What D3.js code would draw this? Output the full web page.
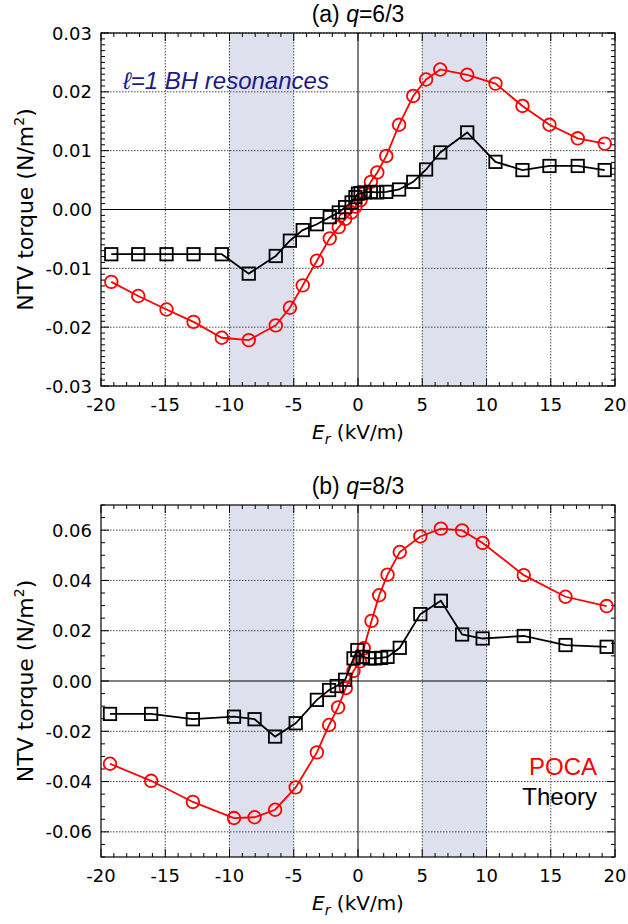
<!DOCTYPE html>
<html>
<head>
<meta charset="utf-8">
<script src="https://cdnjs.cloudflare.com/ajax/libs/d3/7.8.5/d3.min.js"></script>
<style>
body { margin: 0; background: #fff; }
svg { display: block; }
</style>
</head>
<body>
<svg id="canvas" width="628" height="924"></svg>
<script>

// x axis (shared)
var xTicks = [-20, -15, -10, -5, 0, 5, 10, 15, 20];
var bands = [[-10, -5], [5, 10]];

// panel (a) q=6/3
var aTicks = [-0.03, -0.02, -0.01, 0, 0.01, 0.02, 0.03];
var aTheoryEr = [-19.2, -17.1, -14.9, -12.8, -10.6, -8.5, -6.4, -5.3, -4.3, -3.2, -2.2, -1.5, -1.0, -0.5, -0.2, 0.0, 0.2, 0.5, 1.0, 1.5, 2.2, 3.2, 4.3, 5.3, 6.4, 8.5, 10.7, 12.8, 14.9, 17.1, 19.2];
var aTheory = [-0.0076, -0.0076, -0.0076, -0.0076, -0.0076, -0.0109, -0.0079, -0.0053, -0.0035, -0.0025, -0.0013, -0.0005, 0.0004, 0.0012, 0.0021, 0.0027, 0.0028, 0.0029, 0.0030, 0.0029, 0.0030, 0.0034, 0.0047, 0.0068, 0.0097, 0.0131, 0.0081, 0.0067, 0.0074, 0.0074, 0.0067];
var aPocaEr = [-19.2, -17.1, -14.9, -12.8, -10.6, -8.5, -6.4, -5.3, -4.3, -3.2, -2.2, -1.5, -1.0, -0.5, -0.2, 0.2, 0.5, 1.0, 1.5, 2.2, 3.2, 4.3, 5.3, 6.4, 8.5, 10.7, 12.8, 14.9, 17.1, 19.2];
var aPoca = [-0.0123, -0.0147, -0.0170, -0.0191, -0.0218, -0.0222, -0.0197, -0.0167, -0.0129, -0.0087, -0.0049, -0.0030, -0.0016, -0.0005, 0.0005, 0.0016, 0.0028, 0.0047, 0.0063, 0.0091, 0.0144, 0.0193, 0.0221, 0.0238, 0.0229, 0.0214, 0.0176, 0.0144, 0.0121, 0.0112];

// panel (b) q=8/3
var bTicks = [-0.06, -0.04, -0.02, 0, 0.02, 0.04, 0.06];
var bTheoryEr = [-19.3, -16.1, -12.85, -9.65, -8.05, -6.45, -4.85, -3.2, -2.25, -1.65, -1.0, -0.35, -0.05, 0.35, 0.9, 1.35, 1.8, 2.3, 3.25, 4.85, 6.45, 8.1, 9.7, 12.9, 16.15, 19.35];
var bTheory = [-0.0131, -0.0131, -0.0152, -0.0142, -0.0152, -0.0221, -0.0168, -0.0075, -0.0036, -0.0020, 0.0005, 0.0090, 0.0123, 0.0096, 0.0090, 0.0090, 0.0092, 0.0096, 0.0132, 0.0266, 0.0319, 0.0185, 0.0169, 0.0179, 0.0143, 0.0136];
var bPocaEr = [-19.3, -16.1, -12.85, -9.65, -8.05, -6.45, -4.85, -3.2, -2.25, -1.55, -0.95, -0.35, 0.15, 0.45, 1.05, 1.65, 2.3, 3.25, 4.85, 6.45, 8.1, 9.7, 12.9, 16.15, 19.35];
var bPoca = [-0.0329, -0.0397, -0.0481, -0.0545, -0.0542, -0.0512, -0.0423, -0.0284, -0.0175, -0.0105, -0.0028, 0.0040, 0.0078, 0.0130, 0.0239, 0.0341, 0.0423, 0.0513, 0.0575, 0.0606, 0.0599, 0.0549, 0.0421, 0.0335, 0.0298];

var svg = d3.select('#canvas');
var X0 = 101, X1 = 615;
var tickFont = 'DejaVu Sans, sans-serif';
var textFont = 'Liberation Sans, Arial, sans-serif';

function panel(cfg) {
  var x = d3.scaleLinear().domain([-20, 20]).range([X0, X1]);
  var y = d3.scaleLinear().domain(cfg.domain).range([cfg.bottom, cfg.top]);
  var g = svg.append('g');

  // resonance bands
  g.selectAll('.band').data(bands).enter().append('rect')
    .attr('x', function(d) { return x(d[0]); })
    .attr('y', cfg.top)
    .attr('width', function(d) { return x(d[1]) - x(d[0]); })
    .attr('height', cfg.bottom - cfg.top)
    .style('fill', '#dfe0ee');

  // dotted grid
  g.selectAll('.gx').data(xTicks.filter(function(d) { return d !== 0 && Math.abs(d) !== 20; })).enter().append('line')
    .attr('x1', x).attr('x2', x).attr('y1', cfg.top).attr('y2', cfg.bottom)
    .style('stroke', '#444').style('stroke-width', 1).style('stroke-dasharray', '1.5,1.5');
  g.selectAll('.gy').data(cfg.ticks.filter(function(d) { return d !== 0; })).enter().append('line')
    .attr('y1', y).attr('y2', y).attr('x1', X0).attr('x2', X1)
    .style('stroke', '#444').style('stroke-width', 1).style('stroke-dasharray', '1.5,1.5');

  // zero lines
  g.append('line').attr('x1', x(0)).attr('x2', x(0)).attr('y1', cfg.top).attr('y2', cfg.bottom)
    .style('stroke', '#000').style('stroke-width', 1);
  g.append('line').attr('x1', X0).attr('x2', X1).attr('y1', y(0)).attr('y2', y(0))
    .style('stroke', '#000').style('stroke-width', 1);

  // inward ticks, all four sides
  var xMinor = d3.range(-20, 20.001, 1);
  var yMinor = d3.range(cfg.domain[0], cfg.domain[1] + cfg.minor / 2, cfg.minor);
  xMinor.forEach(function(v) {
    var len = (Math.round(v) % 5 === 0) ? 8 : 4;
    g.append('line').attr('x1', x(v)).attr('x2', x(v)).attr('y1', cfg.bottom).attr('y2', cfg.bottom - len).style('stroke', '#000');
    g.append('line').attr('x1', x(v)).attr('x2', x(v)).attr('y1', cfg.top).attr('y2', cfg.top + len).style('stroke', '#000');
  });
  yMinor.forEach(function(v) {
    var major = cfg.ticks.some(function(t) { return Math.abs(t - v) < cfg.minor / 10; });
    var len = major ? 8 : 4;
    g.append('line').attr('y1', y(v)).attr('y2', y(v)).attr('x1', X0).attr('x2', X0 + len).style('stroke', '#000');
    g.append('line').attr('y1', y(v)).attr('y2', y(v)).attr('x1', X1).attr('x2', X1 - len).style('stroke', '#000');
  });

  // frame
  g.append('rect').attr('x', X0).attr('y', cfg.top).attr('width', X1 - X0).attr('height', cfg.bottom - cfg.top)
    .style('fill', 'none').style('stroke', '#000').style('stroke-width', 1.2);

  // tick labels
  g.selectAll('.xl').data(xTicks).enter().append('text')
    .attr('x', x).attr('y', cfg.bottom + 25)
    .attr('text-anchor', 'middle')
    .style('font-family', tickFont).style('font-size', '18px')
    .text(function(d) { return String(d); });
  g.selectAll('.yl').data(cfg.ticks).enter().append('text')
    .attr('x', X0 - 9).attr('y', function(d) { return y(d) + 6.5; })
    .attr('text-anchor', 'end')
    .style('font-family', tickFont).style('font-size', '18px')
    .text(function(d) { return d.toFixed(2); });

  // axis titles
  var xt = g.append('text').attr('x', x(0)).attr('y', cfg.bottom + 53).attr('text-anchor', 'middle')
    .style('font-family', tickFont).style('font-size', '20px');
  xt.append('tspan').style('font-style', 'italic').text('E');
  xt.append('tspan').style('font-style', 'italic').style('font-size', '14px').attr('dy', 5).text('r');
  xt.append('tspan').attr('dy', -5).text(' (kV/m)');

  var yt = g.append('text')
    .attr('transform', 'translate(33,' + ((cfg.top + cfg.bottom) / 2) + ') rotate(-90)')
    .attr('text-anchor', 'middle')
    .style('font-family', tickFont).style('font-size', '22px');
  yt.append('tspan').text('NTV torque (N/m');
  yt.append('tspan').style('font-size', '14px').attr('dy', -9).text('2');
  yt.append('tspan').attr('dy', 9).text(')');

  // panel title
  var tt = g.append('text').attr('x', x(0)).attr('y', cfg.top - 11).attr('text-anchor', 'middle')
    .style('font-family', textFont).style('font-size', '23px');
  tt.append('tspan').text(cfg.label + ' ');
  tt.append('tspan').style('font-style', 'italic').text('q');
  tt.append('tspan').text(cfg.q);

  // series
  var line = d3.line().x(function(d) { return x(d[0]); }).y(function(d) { return y(d[1]); });
  var theory = d3.zip(cfg.thEr, cfg.th);
  var poca = d3.zip(cfg.pEr, cfg.p);

  g.append('path').datum(poca).attr('d', line)
    .style('fill', 'none').style('stroke', '#ff0000').style('stroke-width', 1.8);
  g.selectAll('.pc').data(poca).enter().append('circle')
    .attr('cx', function(d) { return x(d[0]); }).attr('cy', function(d) { return y(d[1]); })
    .attr('r', 6.3)
    .style('fill', 'none').style('stroke', '#ff0000').style('stroke-width', 1.8);

  g.append('path').datum(theory).attr('d', line)
    .style('fill', 'none').style('stroke', '#000').style('stroke-width', 1.8);
  g.selectAll('.ts').data(theory).enter().append('rect')
    .attr('x', function(d) { return x(d[0]) - 6.2; }).attr('y', function(d) { return y(d[1]) - 6.2; })
    .attr('width', 12.4).attr('height', 12.4)
    .style('fill', 'none').style('stroke', '#000').style('stroke-width', 1.8);

  return { x: x, y: y, g: g };
}

var pa = panel({ top: 33, bottom: 386, domain: [-0.03, 0.03], ticks: aTicks, minor: 0.001,
  label: '(a)', q: '=6/3', thEr: aTheoryEr, th: aTheory, pEr: aPocaEr, p: aPoca });

var pb = panel({ top: 505, bottom: 857, domain: [-0.07, 0.07], ticks: bTicks, minor: 0.005,
  label: '(b)', q: '=8/3', thEr: bTheoryEr, th: bTheory, pEr: bPocaEr, p: bPoca });

// annotation
pa.g.append('text').attr('x', 123).attr('y', 89)
  .style('font-family', textFont).style('font-size', '24px')
  .style('font-style', 'italic').style('fill', '#1a1a86')
  .text('\u2113=1 BH resonances');

// legend
pb.g.append('text').attr('x', 597).attr('y', 775).attr('text-anchor', 'end')
  .style('font-family', textFont).style('font-size', '24px')
  .style('fill', '#ff0000').text('POCA');
pb.g.append('text').attr('x', 597).attr('y', 805).attr('text-anchor', 'end')
  .style('font-family', textFont).style('font-size', '24px')
  .style('fill', '#000').text('Theory');

</script>
</body>
</html>
